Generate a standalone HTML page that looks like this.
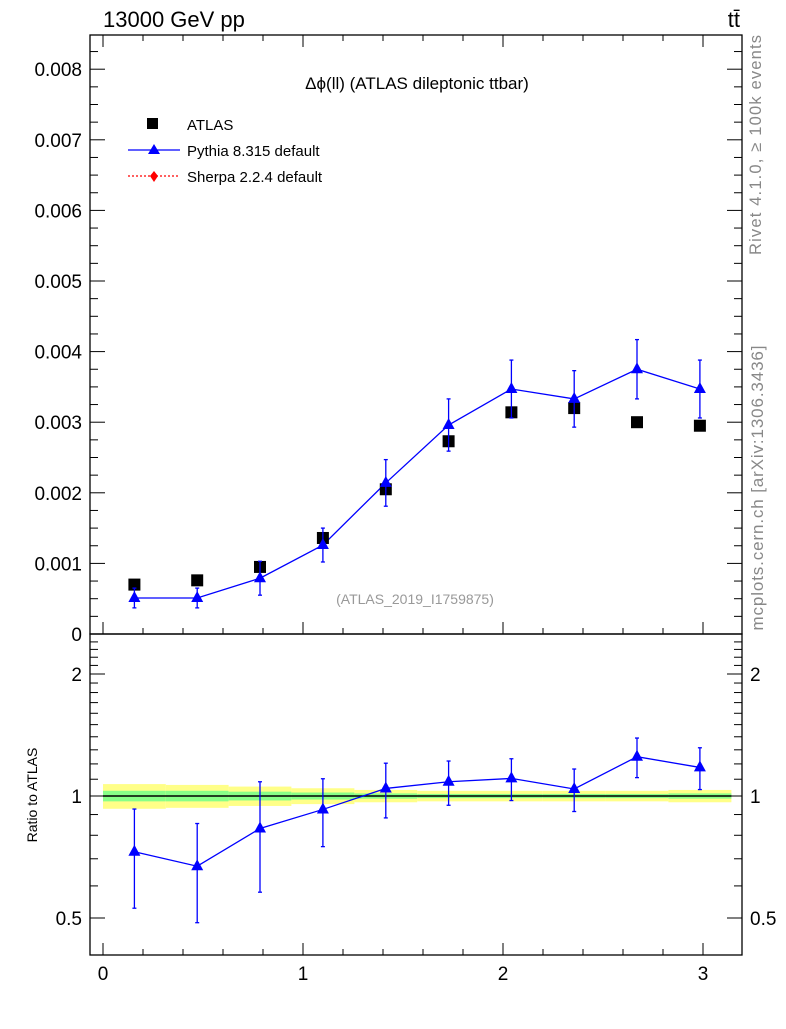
<!DOCTYPE html>
<html><head><meta charset="utf-8"><style>
body{margin:0;background:#fff;width:786px;height:1024px;overflow:hidden}
svg{font-family:"Liberation Sans",sans-serif}
</style></head><body>
<svg id="c" width="786" height="1024" xmlns="http://www.w3.org/2000/svg">
<text x="103" y="27" font-size="22">13000 GeV pp</text>
<text x="740" y="27" font-size="22" text-anchor="end">tt̄</text>
<text x="417" y="89" font-size="17" text-anchor="middle">Δϕ(ll) (ATLAS dileptonic ttbar)</text>
<text x="415" y="604" font-size="14" fill="#999" text-anchor="middle">(ATLAS_2019_I1759875)</text>
<text transform="translate(761,145) rotate(-90)" font-size="16.5" fill="#888" text-anchor="middle" textLength="220">Rivet 4.1.0, ≥ 100k events</text>
<text transform="translate(763,488) rotate(-90)" font-size="17" fill="#888" text-anchor="middle" textLength="285">mcplots.cern.ch [arXiv:1306.3436]</text>
<text transform="translate(37,795) rotate(-90)" font-size="14" text-anchor="middle">Ratio to ATLAS</text>
<g>
<rect x="147" y="118" width="11" height="11" fill="#000"/>
<text x="187" y="130" font-size="15">ATLAS</text>
<line x1="128" y1="150" x2="180" y2="150" stroke="#00f" stroke-width="1.3"/>
<polygon points="154,144 148,154 160,154" fill="#00f"/>
<text x="187" y="156" font-size="15">Pythia 8.315 default</text>
<line x1="128" y1="176" x2="180" y2="176" stroke="#f00" stroke-width="1.3" stroke-dasharray="2,2"/>
<polygon points="154,171 158,176 154,182 150,176" fill="#f00"/>
<text x="187" y="182" font-size="15">Sherpa 2.2.4 default</text>
</g>
</svg>
<script>
const binEdges=[0,0.314,0.628,0.942,1.257,1.571,1.885,2.199,2.513,2.827,3.142];
const atlasVals=[0.0007,0.00076,0.00095,0.00136,0.00205,0.00273,0.00314,0.0032,0.0030,0.00295];
const pythiaVals=[0.00051,0.00051,0.00079,0.00126,0.00214,0.00296,0.00347,0.00333,0.00375,0.00347];
const pythiaErr=[0.00014,0.00014,0.00024,0.00024,0.00033,0.00037,0.00041,0.0004,0.00042,0.00041];
const yellowBand=[0.07,0.065,0.055,0.045,0.035,0.03,0.03,0.03,0.03,0.035];
const greenBand=[0.03,0.03,0.025,0.02,0.015,0.012,0.012,0.012,0.012,0.015];
const mainTicks=[0,0.001,0.002,0.003,0.004,0.005,0.006,0.007,0.008];
const mainTickLabels=["0","0.001","0.002","0.003","0.004","0.005","0.006","0.007","0.008"];
const ratioTicks=[0.5,1,2];
const ratioTickLabels=["0.5","1","2"];
const xTicks=[0,1,2,3];

const svg=document.getElementById('c');const NS='http://www.w3.org/2000/svg';
function el(t,a,p){const e=document.createElementNS(NS,t);for(const k in a)e.setAttribute(k,a[k]);(p||svg).appendChild(e);return e;}
const L=90,R=742,T1=35,B1=634,B2=955;
const X=v=>103+v*200;
const Y=v=>634-v*70600;
const RY=v=>796-Math.log2(v)*122;
for(let i=0;i<10;i++){
 const y=el('rect',{x:X(binEdges[i]),width:X(binEdges[i+1])-X(binEdges[i]),y:RY(1+yellowBand[i]),height:RY(1-yellowBand[i])-RY(1+yellowBand[i]),fill:'#ffff88'});
 
 const g=el('rect',{x:X(binEdges[i]),width:X(binEdges[i+1])-X(binEdges[i]),y:RY(1+greenBand[i]),height:RY(1-greenBand[i])-RY(1+greenBand[i]),fill:'#88ff88'});
 
}
el('line',{x1:X(0),x2:X(3.142),y1:RY(1),y2:RY(1),stroke:'#000','stroke-width':1.5});
const f1=el('rect',{x:L,y:T1,width:R-L,height:B1-T1,fill:'none',stroke:'#000','stroke-width':1.3});

const f2=el('rect',{x:L,y:B1,width:R-L,height:B2-B1,fill:'none',stroke:'#000','stroke-width':1.3});

for(let v=0;v<=3.1;v+=0.2){const maj=Math.abs(v-Math.round(v))<0.01;const x=X(v);const l=maj?12:6;
 for(const b of [B1,B2]){el('line',{x1:x,x2:x,y1:b,y2:b-l,stroke:'#000'});}
 el('line',{x1:x,x2:x,y1:T1,y2:T1+l,stroke:'#000'});}
xTicks.forEach(v=>{const t=el('text',{x:X(v),y:980,'font-size':19,'text-anchor':'middle'});t.textContent=v;
 });
for(let v=0;v<=0.0084;v+=0.00025){const maj=Math.abs(v/0.001-Math.round(v/0.001))<0.01;const y=Y(v);const l=maj?15:8;
 el('line',{x1:L,x2:L+l,y1:y,y2:y,stroke:'#000'});el('line',{x1:R,x2:R-l,y1:y,y2:y,stroke:'#000'});}
mainTicks.forEach((v,i)=>{const t=el('text',{x:82,y:Y(v)+7,'font-size':19,'text-anchor':'end'});t.textContent=mainTickLabels[i];
 });
for(let v=0.5;v<=2.45;v+=0.1){const maj=ratioTicks.some(r=>Math.abs(r-v)<0.01);const y=RY(v);const l=maj?15:8;
 el('line',{x1:L,x2:L+l,y1:y,y2:y,stroke:'#000'});el('line',{x1:R,x2:R-l,y1:y,y2:y,stroke:'#000'});}
ratioTicks.forEach((v,i)=>{for(const [x,a] of [[82,'end'],[750,'start']]){const t=el('text',{x:x,y:RY(v)+7,'font-size':19,'text-anchor':a});t.textContent=ratioTickLabels[i];
 }});
const ctr=i=>(binEdges[i]+binEdges[i+1])/2;
let pts=[],rpts=[];
for(let i=0;i<10;i++){pts.push(X(ctr(i))+','+Y(pythiaVals[i]));rpts.push(X(ctr(i))+','+RY(pythiaVals[i]/atlasVals[i]));}
const pl=el('polyline',{points:pts.join(' '),fill:'none',stroke:'#00f','stroke-width':1.3});

const rl=el('polyline',{points:rpts.join(' '),fill:'none',stroke:'#00f','stroke-width':1.3});

function tri(x,y,name){const p=el('polygon',{points:`${x},${y-7} ${x-6},${y+4} ${x+6},${y+4}`,fill:'#00f'});
 }
function err(x,y1,y2){el('line',{x1:x,x2:x,y1:y1,y2:y2,stroke:'#00f','stroke-width':1.3});
 el('line',{x1:x-2,x2:x+2,y1:y1,y2:y1,stroke:'#00f','stroke-width':1.3});el('line',{x1:x-2,x2:x+2,y1:y2,y2:y2,stroke:'#00f','stroke-width':1.3});}
for(let i=0;i<10;i++){const x=X(ctr(i));
 const s=el('rect',{x:x-6,y:Y(atlasVals[i])-6,width:12,height:12,fill:'#000'});
 
 err(x,Y(pythiaVals[i]+pythiaErr[i]),Y(pythiaVals[i]-pythiaErr[i]));
 tri(x,Y(pythiaVals[i]),'pythia-point');
 const r=pythiaVals[i]/atlasVals[i],re=pythiaErr[i]/atlasVals[i];
 err(x,RY(r+re),RY(r-re));
 tri(x,RY(r),'pythia-ratio-point');
}
</script>
</body></html>
